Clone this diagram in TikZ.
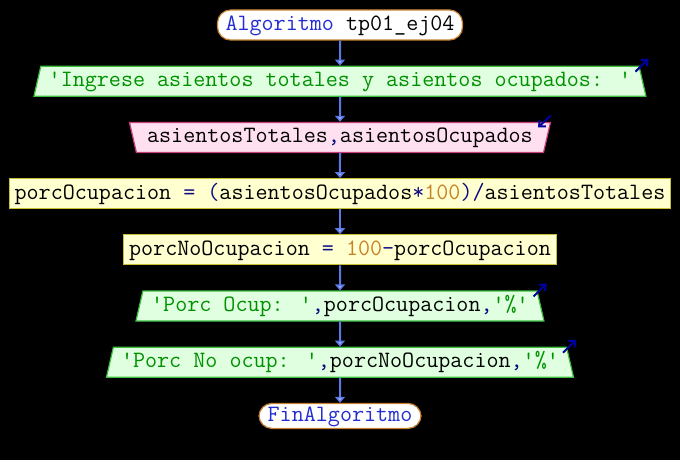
\documentclass[tikz,border=0pt]{standalone}
\usepackage{fontspec}
\usetikzlibrary{positioning,shapes.geometric,arrows.meta,calc}
\definecolor{kwblue}{RGB}{35,45,210}
\definecolor{opnavy}{RGB}{10,10,130}
\definecolor{strgreen}{RGB}{0,145,0}
\definecolor{numorange}{RGB}{200,130,40}
\definecolor{termedge}{RGB}{200,130,50}
\definecolor{outedge}{RGB}{60,190,60}
\definecolor{outfill}{RGB}{224,255,224}
\definecolor{inedge}{RGB}{200,60,120}
\definecolor{infill}{RGB}{255,224,240}
\definecolor{procedge}{RGB}{200,190,50}
\definecolor{procfill}{RGB}{255,255,208}
\definecolor{flowblue}{RGB}{90,120,230}
\definecolor{flowhead}{RGB}{170,185,255}
\definecolor{cornerblue}{RGB}{0,0,160}
\newcommand{\pskw}[1]{\textcolor{kwblue}{#1}}
\newcommand{\psstr}[1]{\textcolor{strgreen}{#1}}
\newcommand{\psnum}[1]{\textcolor{numorange}{#1}}
\newcommand{\psop}[1]{\textcolor{opnavy}{#1}}
\newcommand{\psq}{\textquotesingle}
\begin{document}
\begin{tikzpicture}[x=1pt,y=1pt,
    every node/.style={font=\ttfamily\fontsize{23.4}{24}\selectfont,
      text height=15pt,text depth=4pt,inner sep=0pt,
      minimum height=30pt,line width=1.2pt},
    terminal/.style={draw=termedge,fill=white,rounded corners=13pt},
    salida/.style={trapezium,trapezium left angle=70,trapezium right angle=70,
      trapezium stretches body,draw=outedge,fill=outfill},
    entrada/.style={salida,shape border rotate=180,draw=inedge,fill=infill},
    proceso/.style={draw=procedge,fill=procfill},
    flujo/.style={draw=flowblue,line width=2pt,
      -{Triangle[width=10pt,length=6pt,fill=flowhead]}},
    esquina/.style={draw=cornerblue,line width=2pt,
      -{Straight Barb[length=5pt,width=9pt]}},
    node distance=25pt]
  \fill[black] (0,0) rectangle (680,-460);
  \node[terminal,minimum width=245pt] (inicio) at (340,-25)
    {\pskw{Algoritmo} tp01\_ej04};
  \node[salida,minimum width=612pt,below=of inicio] (escribir1)
    {\psstr{\psq Ingrese asientos totales y asientos ocupados: \psq}};
  \node[entrada,minimum width=421pt,below=of escribir1] (leer)
    {asientosTotales\psop{,}asientosOcupados};
  \node[proceso,minimum width=661pt,below=of leer] (calc1)
    {porcOcupacion \psop{=} \psop{(}asientosOcupados\psop{*}\psnum{100}\psop{)}\psop{/}asientosTotales};
  \node[proceso,minimum width=433pt,below=of calc1] (calc2)
    {porcNoOcupacion \psop{=} \psnum{100}\psop{-}porcOcupacion};
  \node[salida,minimum width=408pt,below=of calc2] (escribir2)
    {\psstr{\psq Porc Ocup: \psq}\psop{,}porcOcupacion\psop{,}\psstr{\psq\%\psq}};
  \node[salida,minimum width=467pt,below=of escribir2] (escribir3)
    {\psstr{\psq Porc No ocup: \psq}\psop{,}porcNoOcupacion\psop{,}\psstr{\psq\%\psq}};
  \node[terminal,minimum width=162pt,minimum height=25pt,below=of escribir3] (fin)
    {\pskw{FinAlgoritmo}};
  \foreach \a/\b in {inicio/escribir1,escribir1/leer,leer/calc1,calc1/calc2,
      calc2/escribir2,escribir2/escribir3,escribir3/fin}
    \draw[flujo] (\a) -- (\b);
  \foreach \n in {escribir1,escribir2,escribir3}
    \draw[esquina] ($(\n.top right corner)+(-4,-6)$) -- ++(13,13);
  \draw[esquina] ($(leer.center)+(211,22)$) -- ++(-13,-12);
\end{tikzpicture}
\end{document}
